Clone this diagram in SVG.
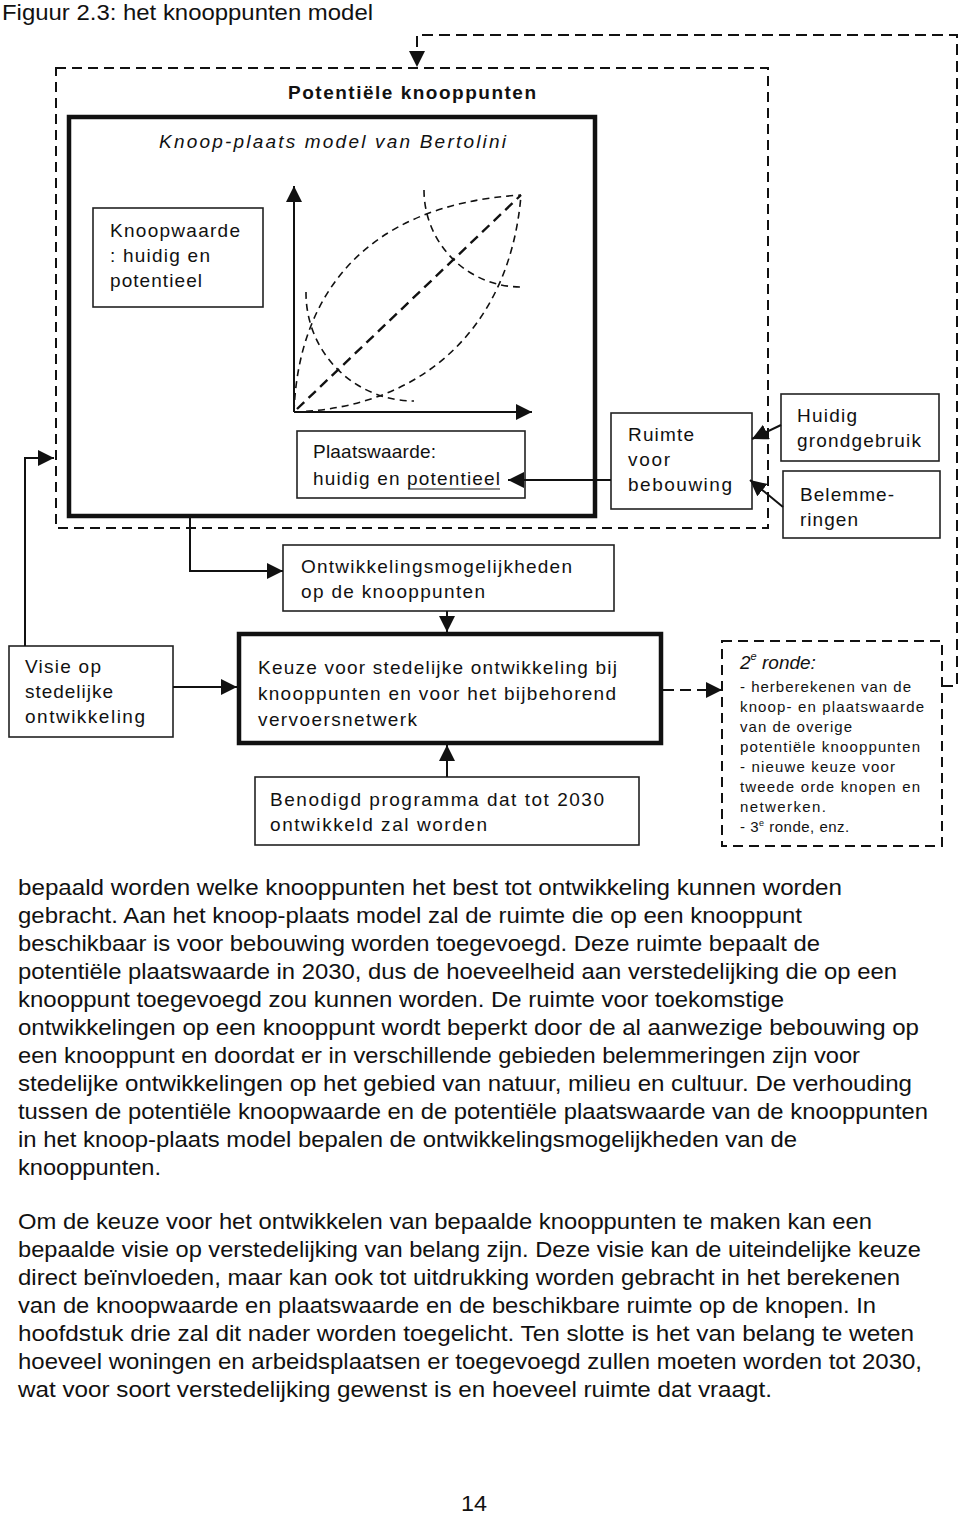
<svg xmlns="http://www.w3.org/2000/svg" width="960" height="1514" viewBox="0 0 960 1514">
<style>
.lbl{font-family:"Liberation Sans",Arial,sans-serif;font-size:19px;fill:#111}
.sm{font-family:"Liberation Sans",Arial,sans-serif;font-size:15px;fill:#111}
.par{font-family:"Liberation Sans Narrow","Liberation Sans",Arial,sans-serif;font-size:22.5px;fill:#111}
.box{fill:#fff;stroke:#222;stroke-width:1.6}
.thick{fill:none;stroke:#111;stroke-width:4.5}
.dbox{fill:none;stroke:#111;stroke-width:2;stroke-dasharray:10 6}
.ln{fill:none;stroke:#111;stroke-width:2}
.dln{fill:none;stroke:#111;stroke-width:2;stroke-dasharray:11 6}
.crv{fill:none;stroke:#111;stroke-width:1.6;stroke-dasharray:7 5}
.diag{fill:none;stroke:#111;stroke-width:2.4;stroke-dasharray:10 6}
</style>
<defs>
<marker id="arr" markerUnits="userSpaceOnUse" markerWidth="18" markerHeight="16" refX="16" refY="8" orient="auto"><path d="M0,0 L16,8 L0,16 z" fill="#111"/></marker>
</defs>

<text x="2" y="20" class="par" font-size="22" textLength="371" lengthAdjust="spacingAndGlyphs">Figuur 2.3: het knooppunten model</text>

<g id="potentiele-knooppunten">
<rect x="56" y="68" width="712" height="460" class="dbox"/>
<text x="288" y="99" class="lbl" font-weight="bold" font-size="20" textLength="248">Potentiële knooppunten</text>
</g>

<g id="knoop-plaats-model">
<rect x="69" y="117" width="526" height="399" class="thick"/>
<text x="159" y="148" class="lbl" font-style="italic" font-size="21" textLength="347">Knoop-plaats model van Bertolini</text>
</g>

<g id="knoopwaarde">
<rect x="93" y="208" width="170" height="99" class="box"/>
<text x="110" y="237" class="lbl" textLength="130">Knoopwaarde</text>
<text x="110" y="262" class="lbl" textLength="100">: huidig en</text>
<text x="110" y="287" class="lbl" textLength="92">potentieel</text>
</g>

<g id="grafiek">
<path d="M294,412 C298,300 360,205 521,195" class="crv"/>
<path d="M294,412 C420,408 510,330 521,195" class="crv"/>
<path d="M306,292 A108,108 0 0 0 414,401" class="crv"/>
<path d="M424,190 A97,97 0 0 0 521,287" class="crv"/>
<path d="M297,409 L521,195" class="diag"/>
</g>

<g id="plaatswaarde">
<rect x="297" y="431" width="228" height="67" class="box"/>
<text x="313" y="458" class="lbl" textLength="123">Plaatswaarde:</text>
<text x="313" y="485" class="lbl" textLength="187">huidig en potentieel</text>
<line x1="408" y1="489" x2="500" y2="489" stroke="#111" stroke-width="1.2"/>
</g>

<g id="ruimte">
<rect x="611" y="413" width="141" height="96" class="box"/>
<text x="628" y="441" class="lbl" textLength="66">Ruimte</text>
<text x="628" y="466" class="lbl" textLength="42">voor</text>
<text x="628" y="491" class="lbl" textLength="104">bebouwing</text>
</g>

<g id="huidig">
<rect x="781" y="394" width="158" height="67" class="box"/>
<text x="797" y="422" class="lbl" textLength="60">Huidig</text>
<text x="797" y="447" class="lbl" textLength="124">grondgebruik</text>
</g>

<g id="belemmeringen">
<rect x="783" y="471" width="157" height="67" class="box"/>
<text x="800" y="501" class="lbl" textLength="94">Belemme-</text>
<text x="800" y="526" class="lbl" textLength="58">ringen</text>
</g>

<g id="ontwikkelingsmogelijkheden">
<rect x="283" y="545" width="331" height="66" class="box"/>
<text x="301" y="573" class="lbl" textLength="271">Ontwikkelingsmogelijkheden</text>
<text x="301" y="598" class="lbl" textLength="184">op de knooppunten</text>
</g>

<g id="visie">
<rect x="9" y="646" width="164" height="91" class="box"/>
<text x="25" y="673" class="lbl" textLength="76">Visie op</text>
<text x="25" y="698" class="lbl" textLength="88">stedelijke</text>
<text x="25" y="723" class="lbl" textLength="120">ontwikkeling</text>
</g>

<g id="keuze">
<rect x="239" y="634" width="422" height="109" class="thick"/>
<text x="258" y="674" class="lbl" textLength="359">Keuze voor stedelijke ontwikkeling bij</text>
<text x="258" y="700" class="lbl" textLength="358">knooppunten en voor het bijbehorend</text>
<text x="258" y="726" class="lbl" textLength="159">vervoersnetwerk</text>
</g>

<g id="benodigd">
<rect x="255" y="777" width="384" height="68" class="box"/>
<text x="270" y="806" class="lbl" textLength="334">Benodigd programma dat tot 2030</text>
<text x="270" y="831" class="lbl" textLength="217">ontwikkeld zal worden</text>
</g>

<g id="tweede-ronde">
<rect x="722" y="641" width="220" height="205" class="dbox"/>
<text x="740" y="669" class="lbl" font-style="italic" font-size="21">2<tspan font-size="11" dy="-9">e</tspan><tspan dy="9"> ronde:</tspan></text>
<text x="740" y="692" class="sm" textLength="171">- herberekenen van de</text>
<text x="740" y="712" class="sm" textLength="184">knoop- en plaatswaarde</text>
<text x="740" y="732" class="sm" textLength="112">van de overige</text>
<text x="740" y="752" class="sm" textLength="180">potentiële knooppunten</text>
<text x="740" y="772" class="sm" textLength="155">- nieuwe keuze voor</text>
<text x="740" y="792" class="sm" textLength="180">tweede orde knopen en</text>
<text x="740" y="812" class="sm" textLength="86">netwerken.</text>
<text x="740" y="832" class="sm" letter-spacing="0.5">- 3<tspan font-size="9" dy="-6">e</tspan><tspan dy="6"> ronde, enz.</tspan></text>
</g>

<g id="connectors">
<path d="M294,412 V186" class="ln" stroke-width="2.6" marker-end="url(#arr)"/>
<path d="M294,412 H532" class="ln" stroke-width="2.6" marker-end="url(#arr)"/>
<path d="M611,480 H508" class="ln" marker-end="url(#arr)"/>
<path d="M781,425 L752,439" class="ln" marker-end="url(#arr)"/>
<path d="M783,507 L750,480" class="ln" marker-end="url(#arr)"/>
<path d="M190,517 V571 H283" class="ln" marker-end="url(#arr)"/>
<path d="M447,611 V632" class="ln" marker-end="url(#arr)"/>
<path d="M173,687 H237" class="ln" marker-end="url(#arr)"/>
<path d="M447,777 V745" class="ln" marker-end="url(#arr)"/>
<path d="M25,646 V458 H54" class="ln" marker-end="url(#arr)"/>
<path d="M663,690 H722" class="dln" marker-end="url(#arr)"/>
<path d="M942,686 H957 V35 H417 V67" class="dln" marker-end="url(#arr)"/>
</g>

<g id="tekst">
<text x="18" y="895" class="par" textLength="824" lengthAdjust="spacingAndGlyphs">bepaald worden welke knooppunten het best tot ontwikkeling kunnen worden</text>
<text x="18" y="923" class="par" textLength="784" lengthAdjust="spacingAndGlyphs">gebracht. Aan het knoop-plaats model zal de ruimte die op een knooppunt</text>
<text x="18" y="951" class="par" textLength="802" lengthAdjust="spacingAndGlyphs">beschikbaar is voor bebouwing worden toegevoegd. Deze ruimte bepaalt de</text>
<text x="18" y="979" class="par" textLength="879" lengthAdjust="spacingAndGlyphs">potentiële plaatswaarde in 2030, dus de hoeveelheid aan verstedelijking die op een</text>
<text x="18" y="1007" class="par" textLength="766" lengthAdjust="spacingAndGlyphs">knooppunt toegevoegd zou kunnen worden. De ruimte voor toekomstige</text>
<text x="18" y="1035" class="par" textLength="901" lengthAdjust="spacingAndGlyphs">ontwikkelingen op een knooppunt wordt beperkt door de al aanwezige bebouwing op</text>
<text x="18" y="1063" class="par" textLength="842" lengthAdjust="spacingAndGlyphs">een knooppunt en doordat er in verschillende gebieden belemmeringen zijn voor</text>
<text x="18" y="1091" class="par" textLength="894" lengthAdjust="spacingAndGlyphs">stedelijke ontwikkelingen op het gebied van natuur, milieu en cultuur. De verhouding</text>
<text x="18" y="1119" class="par" textLength="910" lengthAdjust="spacingAndGlyphs">tussen de potentiële knoopwaarde en de potentiële plaatswaarde van de knooppunten</text>
<text x="18" y="1147" class="par" textLength="779" lengthAdjust="spacingAndGlyphs">in het knoop-plaats model bepalen de ontwikkelingsmogelijkheden van de</text>
<text x="18" y="1175" class="par" textLength="143" lengthAdjust="spacingAndGlyphs">knooppunten.</text>
<text x="18" y="1229" class="par" textLength="854" lengthAdjust="spacingAndGlyphs">Om de keuze voor het ontwikkelen van bepaalde knooppunten te maken kan een</text>
<text x="18" y="1257" class="par" textLength="903" lengthAdjust="spacingAndGlyphs">bepaalde visie op verstedelijking van belang zijn. Deze visie kan de uiteindelijke keuze</text>
<text x="18" y="1285" class="par" textLength="882" lengthAdjust="spacingAndGlyphs">direct beïnvloeden, maar kan ook tot uitdrukking worden gebracht in het berekenen</text>
<text x="18" y="1313" class="par" textLength="858" lengthAdjust="spacingAndGlyphs">van de knoopwaarde en plaatswaarde en de beschikbare ruimte op de knopen. In</text>
<text x="18" y="1341" class="par" textLength="896" lengthAdjust="spacingAndGlyphs">hoofdstuk drie zal dit nader worden toegelicht. Ten slotte is het van belang te weten</text>
<text x="18" y="1369" class="par" textLength="904" lengthAdjust="spacingAndGlyphs">hoeveel woningen en arbeidsplaatsen er toegevoegd zullen moeten worden tot 2030,</text>
<text x="18" y="1397" class="par" textLength="754" lengthAdjust="spacingAndGlyphs">wat voor soort verstedelijking gewenst is en hoeveel ruimte dat vraagt.</text>
<text x="474" y="1511" class="par" text-anchor="middle" textLength="26" lengthAdjust="spacingAndGlyphs">14</text>
</g>
</svg>
